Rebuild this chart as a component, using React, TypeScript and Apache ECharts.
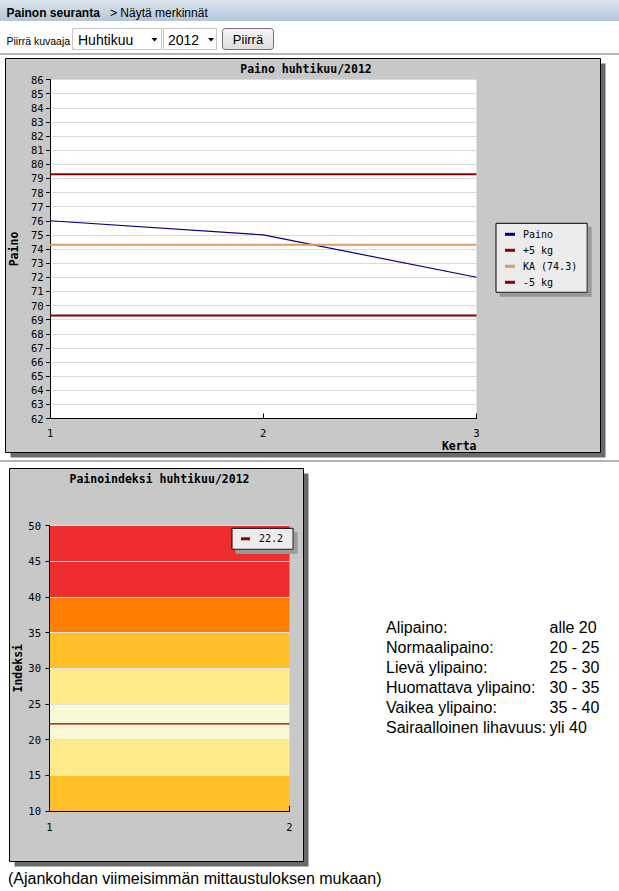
import React, { useEffect, useRef } from 'react';
import * as echarts from 'echarts';

// ---- Data ----
const kerta = [1, 2, 3];
const paino = [76, 75, 72];
const plusViisi = [79.3, 79.3, 79.3];
const keskiarvo = [74.3, 74.3, 74.3];
const miinusViisi = [69.3, 69.3, 69.3];
const painoNimet = ['Paino', '+5 kg', 'KA (74.3)', '-5 kg'];

const bmiKerta = [1, 2];
const bmiArvo = [22.2, 22.2];
const bmiNimi = '22.2';
const bmiRajat = [10, 15, 20, 25, 30, 35, 40, 50];
const bmiVarit = ['#ffc02a', '#ffeb8c', '#f9f8d6', '#ffeb8c', '#ffc02a', '#ff8000', '#ee2e2e'];

const luokat = ['Alipaino:', 'Normaalipaino:', 'Lievä ylipaino:', 'Huomattava ylipaino:', 'Vaikea ylipaino:', 'Sairaalloinen lihavuus:'];
const luokkaRajat = ['alle 20', '20 - 25', '25 - 30', '30 - 35', '35 - 40', 'yli 40'];

const MONO = '"DejaVu Sans Mono", "Liberation Mono", monospace';
const SANS = '"Liberation Sans", Arial, sans-serif';

export default function App() {
  const ref = useRef<HTMLDivElement>(null);
  useEffect(() => {
    if (!ref.current) return;
    const chart = echarts.init(ref.current, null, { renderer: 'svg' });

    const axisLabel = (margin: number) => ({ margin, color: '#000', fontFamily: MONO, fontSize: 10.5 });
    const nameStyle = { color: '#000', fontFamily: MONO, fontWeight: 'bold' as const, fontSize: 11.5 };

    const txt = (text: string, x: number, y: number, font: string, extra: any = {}) => ({
      type: 'text', x, y, z: 1,
      style: { text, font, fill: '#000', textAlign: 'left', textVerticalAlign: 'middle', ...extra },
    });

    const graphic: any[] = [
      {
        type: 'rect', z: 0, shape: { x: 0, y: 0, width: 619, height: 21 },
        style: { fill: new echarts.graphic.LinearGradient(0, 0, 0, 1, [{ offset: 0, color: '#dde6ef' }, { offset: 1, color: '#b3c5d6' }]) },
      },
      txt('Painon seuranta', 6.5, 12.5, `bold 12px ${SANS}`),
      txt('> Näytä merkinnät', 110, 12.5, `12px ${SANS}`),
      txt('Piirrä kuvaaja', 6.5, 41, `10.5px ${SANS}`),
      { type: 'rect', z: 0, shape: { x: 72.5, y: 28.5, width: 89, height: 21 }, style: { fill: '#fff', stroke: '#c8c8c8', lineWidth: 1 } },
      txt('Huhtikuu', 78, 39.5, `14px ${SANS}`),
      { type: 'polygon', z: 1, shape: { points: [[151.5, 38], [157.5, 38], [154.5, 41.5]] }, style: { fill: '#000' } },
      { type: 'rect', z: 0, shape: { x: 163.5, y: 28.5, width: 53, height: 21 }, style: { fill: '#fff', stroke: '#c8c8c8', lineWidth: 1 } },
      txt('2012', 168, 39.5, `14px ${SANS}`),
      { type: 'polygon', z: 1, shape: { points: [[208, 38], [214, 38], [211, 41.5]] }, style: { fill: '#000' } },
      {
        type: 'rect', z: 0, shape: { x: 222.5, y: 28.5, width: 51, height: 21, r: 3 },
        style: { fill: new echarts.graphic.LinearGradient(0, 0, 0, 1, [{ offset: 0, color: '#f7f7f7' }, { offset: 1, color: '#dcdcdc' }]), stroke: '#707070', lineWidth: 1 },
      },
      txt('Piirrä', 248, 39.5, `13px ${SANS}`, { textAlign: 'center' }),
      { type: 'line', z: 0, shape: { x1: 0, y1: 54, x2: 619, y2: 54 }, style: { stroke: '#b4b4b4', lineWidth: 2 } },
      { type: 'rect', z: 0, shape: { x: 10.5, y: 63.5, width: 595, height: 394 }, style: { fill: '#6a6a6a' } },
      { type: 'rect', z: 0, shape: { x: 5.5, y: 58.5, width: 595, height: 394 }, style: { fill: '#c8c8c8', stroke: '#000', lineWidth: 1 } },
      { type: 'line', z: 0, shape: { x1: 0, y1: 461, x2: 619, y2: 461 }, style: { stroke: '#b4b4b4', lineWidth: 2 } },
      { type: 'rect', z: 0, shape: { x: 14.5, y: 473.5, width: 294, height: 393 }, style: { fill: '#6a6a6a' } },
      { type: 'rect', z: 0, shape: { x: 9.5, y: 468.5, width: 294, height: 393 }, style: { fill: '#c8c8c8', stroke: '#000', lineWidth: 1 } },
      txt('Kerta', 476.5, 445.5, `bold 11.5px ${MONO}`, { textAlign: 'right' }),
      ...luokat.map((l, i) => txt(l, 386, 627.5 + i * 20, `16px ${SANS}`)),
      ...luokkaRajat.map((r, i) => txt(r, 549.5, 627.5 + i * 20, `16px ${SANS}`)),
      txt('(Ajankohdan viimeisimmän mittaustuloksen mukaan)', 8, 878, `16px ${SANS}`),
    ];

    const lineSeries = (name: string, xs: number[], ys: number[], color: string, width: number, xi: number) => ({
      name, type: 'line', xAxisIndex: xi, yAxisIndex: xi, z: 4,
      data: xs.map((x, i) => [x, ys[i]]),
      showSymbol: false, symbol: 'none', silent: true,
      lineStyle: { color, width }, itemStyle: { color },
    });

    const legendBase = {
      orient: 'vertical', icon: 'rect', itemWidth: 10, itemHeight: 3, itemGap: 4,
      backgroundColor: '#ececec', borderColor: '#000', borderWidth: 1, borderRadius: 0,
      shadowColor: '#9a9a9a', shadowBlur: 0, shadowOffsetX: 4, shadowOffsetY: 4,
      z: 10, selectedMode: false,
    };

    chart.setOption({
      animation: false,
      graphic,
      title: [
        { text: 'Paino huhtikuu/2012', left: 306, top: 63, textAlign: 'center', padding: 0,
          textStyle: { ...nameStyle, lineHeight: 12 } },
        { text: 'Painoindeksi huhtikuu/2012', left: 159.5, top: 473, textAlign: 'center', padding: 0,
          textStyle: { ...nameStyle, lineHeight: 12 } },
      ],
      legend: [
        { ...legendBase, data: painoNimet, left: 496, top: 223.3, padding: [5, 10, 4, 9],
          textStyle: { color: '#000', fontFamily: MONO, fontSize: 10, lineHeight: 12, padding: [0, 0, 0, 3] } },
        { ...legendBase, data: [bmiNimi], left: 232, top: 528.3, padding: [4.5, 10, 4.5, 9], itemWidth: 9,
          textStyle: { color: '#000', fontFamily: MONO, fontSize: 10, lineHeight: 12, padding: [0, 0, 0, 4] } },
      ],
      grid: [
        { left: 46.5, top: 79.5, width: 430, height: 339, show: true, backgroundColor: '#fff', borderWidth: 0, z: 1 },
        { left: 49.5, top: 525.5, width: 240, height: 285.5, show: false, z: 1 },
      ],
      xAxis: [
        { type: 'value', gridIndex: 0, min: 1, max: 3, interval: 1, z: 3,
          axisLine: { show: true, lineStyle: { color: '#000', width: 1 } },
          axisTick: { show: true, inside: true, length: 5, lineStyle: { color: '#000' } },
          axisLabel: axisLabel(9), splitLine: { show: false } },
        { type: 'value', gridIndex: 1, min: 1, max: 2, interval: 1, z: 3,
          axisLine: { show: true, lineStyle: { color: '#000', width: 1 } },
          axisTick: { show: true, inside: true, length: 5, lineStyle: { color: '#000' } },
          axisLabel: axisLabel(10), splitLine: { show: false } },
      ],
      yAxis: [
        { type: 'value', gridIndex: 0, min: 62, max: 86, interval: 1, z: 3,
          axisLine: { show: true, lineStyle: { color: '#000', width: 1 } },
          axisTick: { show: true, inside: false, length: 4, lineStyle: { color: '#000' } },
          axisLabel: axisLabel(6.5),
          splitLine: { show: true, lineStyle: { color: '#dadada', width: 1 } },
          name: 'Paino', nameLocation: 'middle', nameGap: 26, nameTextStyle: nameStyle },
        { type: 'value', gridIndex: 1, min: 10, max: 50, interval: 5, z: 3,
          axisLine: { show: true, lineStyle: { color: '#000', width: 1 } },
          axisTick: { show: true, inside: false, length: 4, lineStyle: { color: '#000' } },
          axisLabel: axisLabel(8.5),
          splitLine: { show: true, lineStyle: { color: '#e2e2e2', width: 1 } },
          name: 'Indeksi', nameLocation: 'middle', nameGap: 25, nameTextStyle: nameStyle },
      ],
      series: [
        lineSeries(painoNimet[0], kerta, paino, '#000080', 1.2, 0),
        lineSeries(painoNimet[1], kerta, plusViisi, '#8b0000', 2, 0),
        lineSeries(painoNimet[2], kerta, keskiarvo, '#e29a5e', 2, 0),
        lineSeries(painoNimet[3], kerta, miinusViisi, '#8b0000', 2, 0),
        {
          name: 'bands', type: 'line', xAxisIndex: 1, yAxisIndex: 1, z: 2, data: [], silent: true,
          markArea: {
            silent: true, label: { show: false },
            data: bmiVarit.map((c, i) => [
              { yAxis: bmiRajat[i], itemStyle: { color: c, borderWidth: 0 } },
              { yAxis: bmiRajat[i + 1] },
            ]),
          },
        },
        lineSeries(bmiNimi, bmiKerta, bmiArvo, '#8b0000', 1.3, 1),
      ],
    });
    return () => chart.dispose();
  }, []);
  return <div ref={ref} style={{ position: 'fixed', left: 0, top: 0, width: 619, height: 891, background: '#fff' }} />;
}
